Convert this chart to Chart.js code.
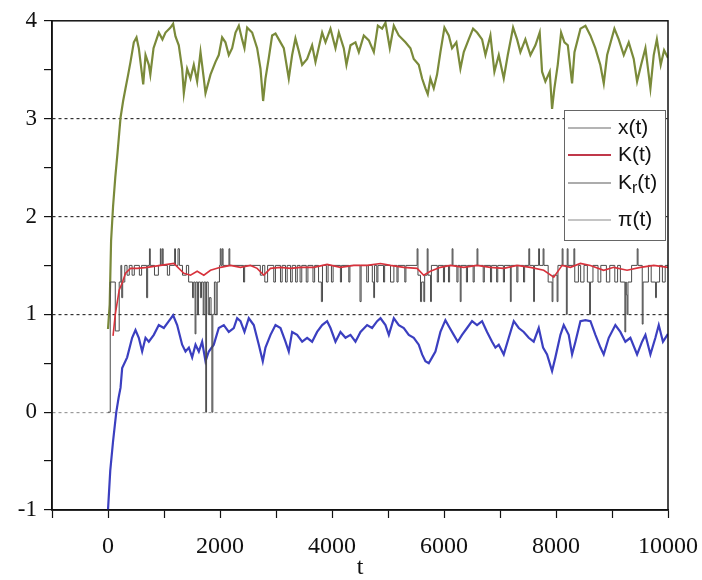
<!DOCTYPE html>
<html>
<head>
<meta charset="utf-8">
<script src="https://cdn.jsdelivr.net/npm/chart.js@4/dist/chart.umd.min.js"></script>
<style>
  body { margin: 0; background: #fff; }
  #wrap { width: 702px; height: 580px; }
</style>
</head>
<body>
<div id="wrap"><canvas id="chart"></canvas></div>
<script>
// series labels, in legend order
const seriesLabels = ['x(t)', 'K(t)', 'K_r(t)', 'π(t)'];

// x(t): step series, value holds from each t until the next one
const xtT = [
  0, 40, 130, 200, 230, 245, 262, 300, 340, 380,
  430, 470, 560, 600, 690, 708, 740, 755, 830, 900,
  935, 948, 970, 985, 1060, 1100, 1190, 1205, 1250, 1275,
  1330, 1400, 1440, 1510, 1530, 1555, 1570, 1600, 1615, 1650,
  1670, 1700, 1715, 1745, 1760, 1790, 1810, 1840, 1855, 1872,
  1900, 1930, 1950, 1990, 2005, 2020, 2040, 2055, 2160, 2175,
  2420, 2440, 2720, 2760, 2800, 2850, 2960, 2990, 3080, 3110,
  3170, 3200, 3260, 3290, 3350, 3380, 3430, 3460, 3540, 3570,
  3660, 3690, 3760, 3810, 3830, 3900, 3930, 3990, 4020, 4150,
  4170, 4300, 4320, 4500, 4520, 4620, 4650, 4720, 4745, 4760,
  4800, 4820, 4920, 4940, 5045, 5105, 5160, 5180, 5300, 5320,
  5520, 5535, 5580, 5600, 5640, 5655, 5700, 5715, 5760, 5775,
  5880, 5900, 5990, 6010, 6080, 6100, 6145, 6160, 6230, 6250,
  6290, 6305, 6400, 6420, 6520, 6540, 6590, 6605, 6700, 6720,
  6830, 6850, 6940, 6960, 7060, 7080, 7185, 7200, 7300, 7320,
  7420, 7440, 7515, 7530, 7600, 7615, 7690, 7705, 7770, 7785,
  7860, 7930, 7945, 8020, 8035, 8110, 8125, 8185, 8200, 8215,
  8320, 8335, 8400, 8440, 8500, 8560, 8600, 8615, 8660, 8750,
  8800, 8900, 8960, 9050, 9100, 9150, 9230, 9245, 9255, 9270,
  9285, 9350, 9450, 9465, 9540, 9555, 9650, 9700, 9778, 9793,
  9850, 9900, 9950, 10000
];
const xtV = [
  0, 1.33, 0.83, 1.33, 1.5, 1.17, 1.33, 1.5, 1.4, 1.5,
  1.4, 1.5, 1.4, 1.5, 1.17, 1.5, 1.67, 1.5, 1.4, 1.5,
  1.67, 1.5, 1.67, 1.5, 1.4, 1.5, 1.67, 1.5, 1.67, 1.5,
  1.4, 1.5, 1.33, 1.17, 1.33, 0.8, 1.33, 1.0, 1.33, 1.17,
  1.33, 1.0, 1.33, 0, 1.33, 1.0, 1.17, 1.0, 0, 1.0,
  1.33, 1.0, 1.33, 1.5, 1.67, 1.5, 1.67, 1.5, 1.67, 1.5,
  1.33, 1.5, 1.4, 1.5, 1.33, 1.5, 1.33, 1.5, 1.33, 1.5,
  1.33, 1.5, 1.33, 1.5, 1.33, 1.5, 1.33, 1.5, 1.33, 1.5,
  1.33, 1.5, 1.33, 1.13, 1.5, 1.33, 1.5, 1.33, 1.5, 1.33,
  1.5, 1.33, 1.5, 1.13, 1.5, 1.33, 1.5, 1.33, 1.17, 1.5,
  1.33, 1.5, 1.33, 1.5, 1.33, 1.5, 1.33, 1.5, 1.33, 1.5,
  1.67, 1.4, 1.13, 1.33, 1.13, 1.4, 1.67, 1.4, 1.13, 1.5,
  1.33, 1.5, 1.33, 1.5, 1.33, 1.5, 1.67, 1.5, 1.33, 1.5,
  1.13, 1.5, 1.33, 1.5, 1.33, 1.5, 1.67, 1.5, 1.33, 1.5,
  1.33, 1.5, 1.33, 1.5, 1.33, 1.5, 1.13, 1.5, 1.33, 1.5,
  1.33, 1.5, 1.67, 1.5, 1.13, 1.5, 1.67, 1.5, 1.67, 1.5,
  1.33, 1.13, 1.4, 1.13, 1.5, 1.67, 1.5, 1.0, 1.67, 1.5,
  1.67, 1.33, 1.5, 1.33, 1.5, 1.33, 1.0, 1.33, 1.5, 1.33,
  1.5, 1.33, 1.5, 1.33, 1.5, 1.33, 0.82, 1.33, 1.2, 1.0,
  1.33, 1.5, 1.67, 1.5, 0.9, 1.33, 1.5, 1.33, 1.17, 1.33,
  1.5, 1.33, 1.5, 1.5
];

// K(t)
const kT = [
  90, 130, 200, 253, 313, 402, 521, 699, 938, 1176,
  1354, 1473, 1592, 1711, 1830, 2008, 2187, 2365, 2544, 2663,
  2782, 2902, 3080, 3259, 3437, 3675, 3913, 4151, 4390, 4627,
  4866, 5044, 5282, 5520, 5638, 5757, 5936, 6114, 6353, 6590,
  6829, 7067, 7305, 7543, 7781, 7960, 8109, 8258, 8436, 8615,
  8852, 9031, 9269, 9507, 9745, 10000
];
const kV = [
  0.78, 1.0, 1.25, 1.32, 1.42, 1.47, 1.47, 1.48, 1.5, 1.52,
  1.42, 1.4, 1.44, 1.4, 1.45, 1.48, 1.5, 1.48, 1.5, 1.47,
  1.4, 1.47, 1.48, 1.47, 1.48, 1.48, 1.51, 1.48, 1.5, 1.5,
  1.52, 1.5, 1.48, 1.47, 1.4, 1.44, 1.48, 1.5, 1.48, 1.5,
  1.48, 1.47, 1.5, 1.48, 1.45, 1.38, 1.5, 1.48, 1.52, 1.5,
  1.45, 1.48, 1.45, 1.48, 1.5, 1.48
];

// K_r(t) (blue trace)
const krT = [
  0, 40, 90, 148, 190, 224, 253, 342, 431, 491,
  550, 610, 670, 729, 818, 907, 997, 1086, 1163, 1235,
  1324, 1384, 1444, 1503, 1563, 1622, 1681, 1741, 1800, 1889,
  1978, 2068, 2157, 2246, 2306, 2366, 2437, 2514, 2603, 2693,
  2764, 2812, 2902, 2991, 3080, 3169, 3228, 3288, 3377, 3467,
  3556, 3645, 3734, 3824, 3913, 3973, 4062, 4151, 4241, 4330,
  4419, 4509, 4627, 4716, 4806, 4866, 4955, 5015, 5104, 5193,
  5282, 5371, 5460, 5549, 5609, 5668, 5728, 5788, 5847, 5936,
  6025, 6103, 6174, 6245, 6322, 6412, 6501, 6590, 6680, 6769,
  6858, 6918, 6978, 7067, 7156, 7246, 7335, 7424, 7513, 7602,
  7692, 7769, 7840, 7930, 7989, 8079, 8138, 8227, 8287, 8347,
  8436, 8526, 8615, 8704, 8794, 8852, 8942, 9060, 9149, 9239,
  9328, 9448, 9537, 9597, 9686, 9775, 9835, 9910, 10000
];
const krV = [
  -1.0, -0.6, -0.3, 0.0, 0.15, 0.25, 0.45, 0.56, 0.76, 0.84,
  0.76, 0.62, 0.76, 0.72, 0.79, 0.89, 0.86, 0.93, 0.99, 0.89,
  0.69, 0.62, 0.66, 0.56, 0.69, 0.62, 0.72, 0.52, 0.62, 0.69,
  0.86, 0.89, 0.82, 0.86, 0.96, 0.93, 0.82, 0.96, 0.89, 0.69,
  0.52, 0.66, 0.79, 0.89, 0.86, 0.72, 0.62, 0.82, 0.79, 0.72,
  0.76, 0.72, 0.82, 0.89, 0.93, 0.86, 0.72, 0.82, 0.76, 0.79,
  0.72, 0.82, 0.89, 0.86, 0.93, 0.96, 0.89, 0.79, 0.96, 0.89,
  0.86, 0.79, 0.76, 0.69, 0.59, 0.52, 0.5, 0.56, 0.62, 0.82,
  0.94, 0.86, 0.79, 0.72, 0.79, 0.86, 0.93, 0.89, 0.93, 0.82,
  0.72, 0.66, 0.69, 0.59, 0.76, 0.93, 0.86, 0.82, 0.76, 0.72,
  0.86, 0.66, 0.59, 0.42, 0.56, 0.79, 0.89, 0.79, 0.59, 0.72,
  0.93, 0.94, 0.93, 0.79, 0.66, 0.59, 0.76, 0.89, 0.82, 0.72,
  0.76, 0.59, 0.72, 0.79, 0.59, 0.76, 0.89, 0.72, 0.8
];

// π(t) (olive trace)
const piT = [
  0, 30, 55, 90, 130, 170, 224, 270, 313, 360,
  402, 461, 509, 550, 629, 670, 729, 756, 813, 907,
  972, 1027, 1116, 1163, 1205, 1264, 1324, 1354, 1413, 1473,
  1532, 1592, 1652, 1711, 1741, 1830, 1920, 1978, 2038, 2097,
  2157, 2217, 2277, 2336, 2395, 2437, 2485, 2574, 2663, 2723,
  2770, 2812, 2871, 2931, 2991, 3050, 3139, 3228, 3288, 3347,
  3407, 3467, 3556, 3645, 3705, 3824, 3884, 3973, 4062, 4122,
  4210, 4258, 4330, 4419, 4479, 4568, 4658, 4747, 4819, 4895,
  4955, 5032, 5104, 5192, 5312, 5401, 5460, 5549, 5609, 5669,
  5710, 5757, 5817, 5876, 5936, 6008, 6085, 6144, 6221, 6293,
  6353, 6441, 6519, 6591, 6680, 6740, 6829, 6900, 6978, 7067,
  7139, 7234, 7305, 7364, 7453, 7543, 7632, 7709, 7751, 7810,
  7888, 7930, 7971, 8031, 8091, 8151, 8211, 8287, 8330, 8437,
  8526, 8614, 8702, 8791, 8853, 8913, 9043, 9120, 9210, 9299,
  9388, 9448, 9520, 9597, 9686, 9745, 9801, 9870, 9930, 10000
];
const piV = [
  0.85, 1.1, 1.75, 2.1, 2.4, 2.65, 3.01, 3.18, 3.31, 3.45,
  3.58, 3.78, 3.83, 3.72, 3.35, 3.65, 3.55, 3.45, 3.72, 3.88,
  3.81, 3.88, 3.93, 3.97, 3.84, 3.75, 3.51, 3.26, 3.51, 3.41,
  3.55, 3.38, 3.68, 3.41, 3.26, 3.45, 3.58, 3.65, 3.83, 3.78,
  3.65, 3.72, 3.88, 3.95, 3.81, 3.72, 3.93, 3.88, 3.72, 3.51,
  3.18, 3.41, 3.62, 3.85, 3.87, 3.81, 3.72, 3.41, 3.65, 3.82,
  3.69, 3.55, 3.61, 3.75, 3.58, 3.88, 3.78, 3.92, 3.72, 3.88,
  3.72, 3.55, 3.75, 3.78, 3.68, 3.85, 3.8, 3.68, 3.95, 3.92,
  3.98, 3.72, 3.95, 3.85, 3.78, 3.72, 3.61, 3.55, 3.41, 3.31,
  3.25, 3.41, 3.31, 3.45, 3.68, 3.93, 3.85, 3.72, 3.78, 3.51,
  3.68, 3.81, 3.92, 3.88, 3.81, 3.65, 3.85, 3.48, 3.65, 3.41,
  3.65, 3.93, 3.81, 3.68, 3.81, 3.65, 3.75, 3.88, 3.48, 3.38,
  3.48, 3.1, 3.31, 3.55, 3.88, 3.78, 3.75, 3.36, 3.68, 3.92,
  3.95, 3.85, 3.72, 3.55, 3.36, 3.65, 3.92, 3.81, 3.65, 3.78,
  3.61, 3.38, 3.55, 3.72, 3.31, 3.65, 3.81, 3.55, 3.7, 3.62
];

// axis ticks
const xMin = -1000, xMax = 10000, xStep = 1000, xLabelEvery = 2000;
const yMin = -1, yMax = 4, yStep = 0.5;

const toPoints = (ts, vs) => ts.map((t, i) => ({ x: t, y: vs[i] }));

// colours of the swatches as they show in the legend box
const swatchColors = ['#6a6a6a', '#c0384a', '#5a5a5a', '#8a8a8a'];

const serif = '"Liberation Serif", "Times New Roman", serif';

const frame = {
  id: 'frame',
  afterDatasetsDraw(chart) {
    const { ctx, chartArea: a } = chart;
    ctx.save();
    ctx.strokeStyle = '#111';
    ctx.lineWidth = 1.5;
    ctx.strokeRect(a.left, a.top, a.right - a.left, a.bottom - a.top);

    // legend box
    const bx = a.right - 104, by = 110, bw = 101, bh = 130;
    ctx.fillStyle = '#fff';
    ctx.fillRect(bx, by, bw, bh);
    ctx.strokeStyle = '#666';
    ctx.lineWidth = 1;
    ctx.strokeRect(bx + 0.5, by + 0.5, bw, bh);

    const rowY = [128, 155, 183, 220];
    ctx.font = '21px "Liberation Sans", Arial, sans-serif';
    ctx.textBaseline = 'middle';
    ctx.fillStyle = '#111';
    seriesLabels.forEach((lab, i) => {
      const y = rowY[i];
      ctx.strokeStyle = swatchColors[i];
      ctx.lineWidth = i === 1 ? 2 : 1.2;
      ctx.beginPath();
      ctx.moveTo(bx + 4, y);
      ctx.lineTo(bx + 47, y);
      ctx.stroke();
      let x = bx + 54;
      const parts = lab.split('_');
      if (parts.length === 2) {
        ctx.fillText(parts[0], x, y);
        x += ctx.measureText(parts[0]).width;
        const sub = parts[1].charAt(0);
        ctx.font = '16px "Liberation Sans", Arial, sans-serif';
        ctx.fillText(sub, x, y + 6);
        x += ctx.measureText(sub).width;
        ctx.font = '21px "Liberation Sans", Arial, sans-serif';
        ctx.fillText(parts[1].slice(1), x, y);
      } else {
        ctx.fillText(lab, x, y);
      }
    });
    ctx.restore();
  }
};

const gridColor = (c) => {
  const v = c.tick && c.tick.value;
  if (v === 1 || v === 2 || v === 3) return '#333';
  if (v === 0) return '#9a9a9a';
  return 'rgba(0,0,0,0)';
};

new Chart(document.getElementById('chart'), {
  type: 'line',
  data: {
    datasets: [
      {
        label: seriesLabels[1],
        data: toPoints(kT, kV),
        borderColor: '#d8323c',
        borderWidth: 1.6,
        order: 0
      },
      {
        label: seriesLabels[0],
        data: toPoints(xtT, xtV),
        borderColor: '#4a4a4a',
        borderWidth: 1,
        stepped: true,
        order: 1
      },
      {
        label: seriesLabels[2],
        data: toPoints(krT, krV),
        borderColor: '#3b3fc0',
        borderWidth: 2.2,
        order: 2
      },
      {
        label: seriesLabels[3],
        data: toPoints(piT, piV),
        borderColor: '#7a8a3a',
        borderWidth: 2.2,
        order: 3
      }
    ]
  },
  options: {
    responsive: true,
    maintainAspectRatio: false,
    animation: false,
    events: [],
    layout: { padding: { left: 0, right: 34, top: 13, bottom: 0 } },
    elements: { point: { radius: 0 }, line: { tension: 0 } },
    plugins: { legend: { display: false }, tooltip: { enabled: false } },
    scales: {
      x: {
        type: 'linear',
        min: xMin,
        max: xMax,
        afterFit: (s) => {
          s.height = 70;
          s.paddingLeft = 0;
          s.paddingRight = 0;
        },
        ticks: {
          stepSize: xStep,
          autoSkip: false,
          maxRotation: 0,
          padding: 14,
          color: '#111',
          font: { family: serif, size: 24 },
          callback: (v) => (v >= 0 && v % xLabelEvery === 0) ? String(v) : ''
        },
        grid: {
          drawOnChartArea: false,
          tickLength: 8,
          tickColor: '#111',
          tickWidth: 1.2
        },
        border: { color: '#111', width: 1.5 },
        title: {
          display: true,
          text: 't',
          color: '#111',
          padding: { top: 0, bottom: -2 },
          font: { family: serif, size: 24 }
        }
      },
      y: {
        type: 'linear',
        min: yMin,
        max: yMax,
        afterFit: (s) => { s.width = 52; },
        ticks: {
          stepSize: yStep,
          autoSkip: false,
          padding: 7,
          color: '#111',
          font: { family: serif, size: 23 },
          callback: (v) => Number.isInteger(v) ? String(v) : ''
        },
        grid: {
          color: gridColor,
          lineWidth: 1.2,
          tickLength: 8,
          tickColor: '#111',
          tickWidth: 1.2
        },
        border: { color: '#111', width: 1.5, dash: [3, 3] }
      }
    }
  },
  plugins: [frame]
});
</script>
</body>
</html>
